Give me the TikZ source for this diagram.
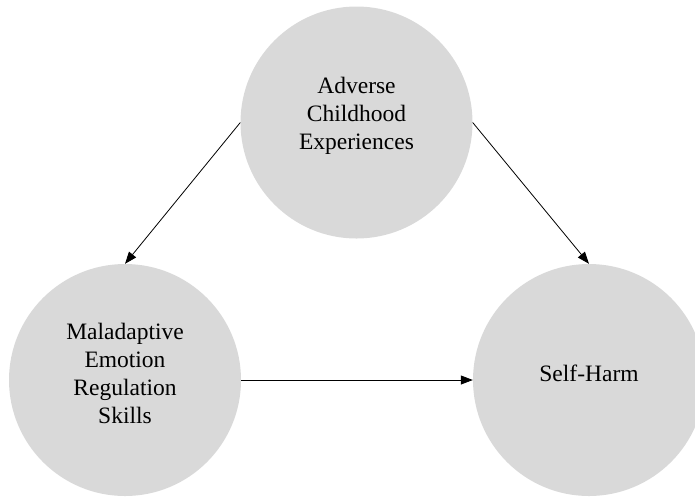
\documentclass[tikz,border=0pt]{standalone}
\usepackage{fontspec}
\setmainfont{Liberation Serif}
\usetikzlibrary{arrows.meta}
\begin{document}
\begin{tikzpicture}[x=1pt,y=-1pt,
  blob/.style={circle,fill={rgb,255:red,217;green,217;blue,217},minimum size=232pt,inner sep=0pt},
  txt/.style={align=center,font=\fontsize{23.5}{28}\selectfont,text=black,inner sep=0pt,yshift=7pt},
  link/.style={draw=black,line width=0.8pt,-{Triangle[length=12pt,width=9pt]}}]
\useasboundingbox (0,0) rectangle (695,496);
\node[blob,label={[txt]center:Adverse\\Childhood\\Experiences}] (ace) at (356.5,122.5) {};
\node[blob,label={[txt]center:Maladaptive\\Emotion\\Regulation\\Skills}] (mers) at (125,380) {};
\node[blob,label={[txt]center:Self-Harm}] (sh) at (589,380) {};
\draw[link] (ace.west) -- (mers.north);
\draw[link] (ace.east) -- (sh.north);
\draw[link] (mers.east) -- (sh.west);
\end{tikzpicture}
\end{document}
